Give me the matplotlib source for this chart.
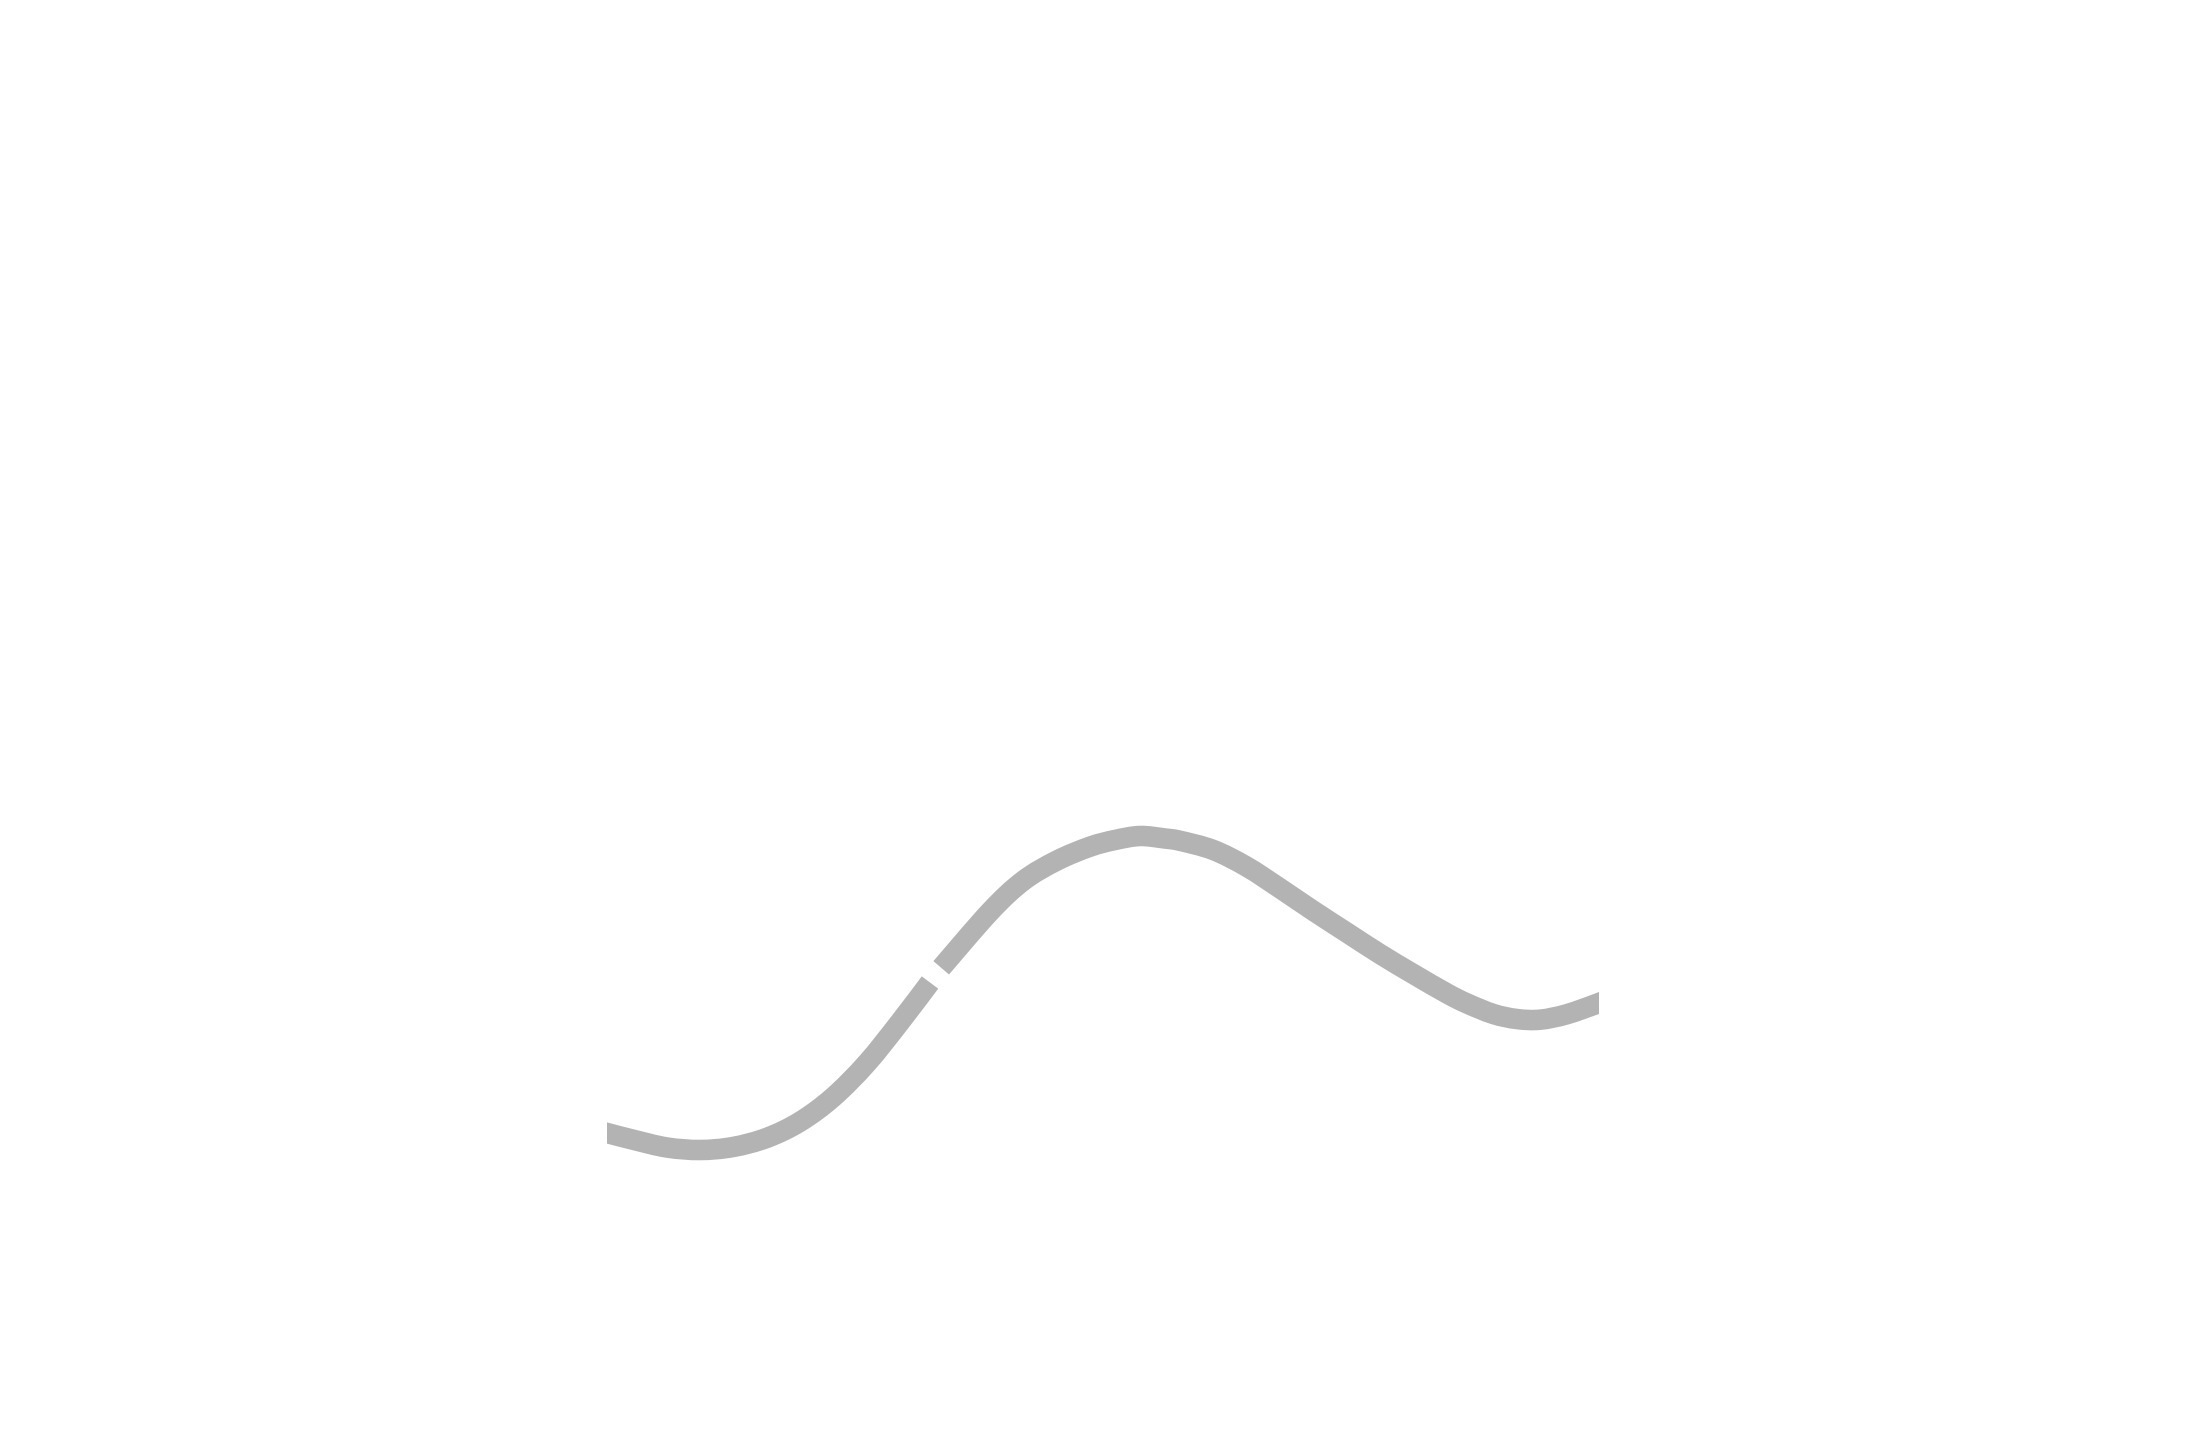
import numpy as np
import matplotlib.pyplot as plt
from matplotlib.path import Path
from matplotlib.patches import PathPatch

# точки кривої (x у відсотках ширини, y у відносних одиницях), NaN - розрив
x_vals = [-1.71, 0.0, 2.62, 6.05, 9.38, 12.7, 16.13, 19.46, 22.78, 26.21,
          29.54, 32.56, 33.1, 33.69, 38.61, 41.97, 45.33, 48.69, 51.21, 53.73,
          56.25, 57.76, 61.12, 64.49, 67.84, 71.2, 74.57, 77.92, 81.28, 84.65,
          86.66, 89.35, 91.7, 94.05, 96.74, 100.0, 101.61]
y_vals = [17.14, 16.7, 16.03, 15.25, 15.0, 15.3, 16.22, 17.83, 20.27, 23.7,
          27.8, 31.75, np.nan, 33.22, 38.83, 41.93, 43.93, 45.33, 46.0, 46.4,
          46.15, 45.92, 45.0, 43.33, 41.17, 38.92, 36.75, 34.6, 32.6, 30.67,
          29.67, 28.6, 28.1, 28.03, 28.57, 29.7, 30.35]

line_color = '#b3b3b3'


# згладжена лінія через точки (Catmull-Rom -> кубічні Безьє)
def smooth_path(xs, ys):
    pts = np.column_stack([xs, ys])
    n = len(pts)
    verts = [pts[0]]
    codes = [Path.MOVETO]
    for i in range(n - 1):
        p0 = pts[max(i - 1, 0)]
        p1 = pts[i]
        p2 = pts[i + 1]
        p3 = pts[min(i + 2, n - 1)]
        verts += [p1 + (p2 - p0) / 6, p2 - (p3 - p1) / 6, p2]
        codes += [Path.CURVE4] * 3
    return Path(verts, codes)


def main():
    fig = plt.figure(figsize=(22.02, 14.34), dpi=100)
    ax = fig.add_axes([607 / 2202, 134 / 1434, 992 / 2202, 600 / 1434])

    x = np.array(x_vals)
    y = np.array(y_vals)
    breaks = np.where(np.isnan(y))[0]
    starts = [0] + list(breaks + 1)
    ends = list(breaks) + [len(y)]

    for s, e in zip(starts, ends):
        patch = PathPatch(smooth_path(x[s:e], y[s:e]), fill=False,
                          edgecolor=line_color, linewidth=14.8,
                          capstyle='butt', joinstyle='round')
        ax.add_patch(patch)

    ax.set_xlim(0, 100)
    ax.set_ylim(0, 60)
    ax.axis('off')

    fig.savefig('out.png', dpi=100, facecolor='white')


if __name__ == "__main__":
    main()
